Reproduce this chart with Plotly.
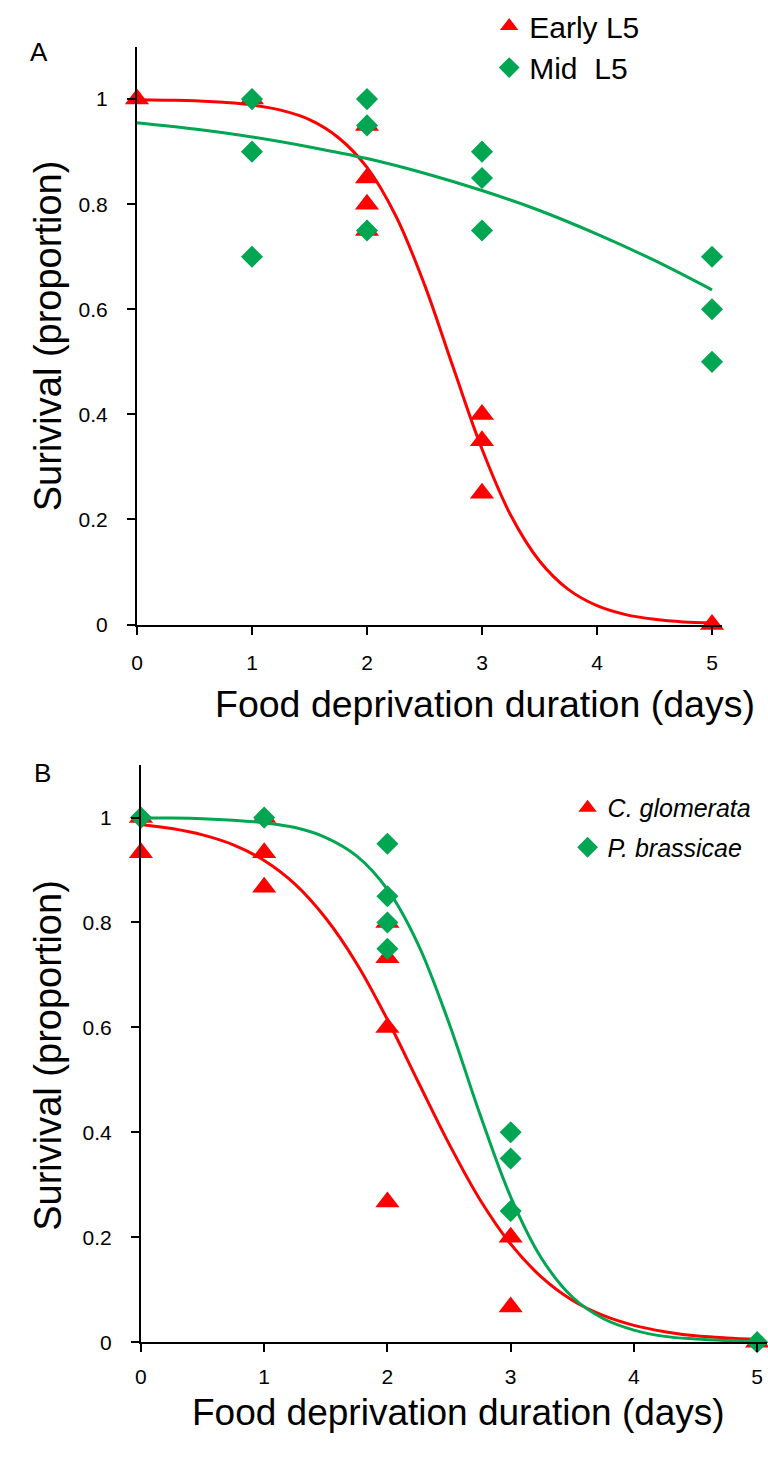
import plotly.graph_objects as go

# ---------------- Data ----------------
# Panel A
a_early_x = [0, 1, 2, 2, 2, 2, 3, 3, 3, 5]
a_early_y = [1.0, 1.0, 0.95, 0.85, 0.80, 0.75, 0.40, 0.35, 0.25, 0.0]
a_mid_x = [1, 1, 1, 2, 2, 2, 3, 3, 3, 5, 5, 5]
a_mid_y = [1.0, 0.90, 0.70, 1.0, 0.95, 0.75, 0.90, 0.85, 0.75, 0.70, 0.60, 0.50]

# fitted curves
a_early_fit_x = [0, 0.25, 0.5, 0.75, 1, 1.25, 1.5, 1.75, 2, 2.25, 2.5, 2.75, 3,
                 3.25, 3.5, 3.75, 4, 4.25, 4.5, 4.75, 5]
a_early_fit_y = [0.999, 0.998, 0.997, 0.994, 0.989, 0.979, 0.961, 0.927, 0.870,
                 0.778, 0.647, 0.489, 0.334, 0.208, 0.121, 0.067, 0.036, 0.019,
                 0.010, 0.005, 0.003]
a_mid_fit_x = [0, 0.5, 1, 1.5, 2, 2.5, 3, 3.5, 4, 4.5, 5]
a_mid_fit_y = [0.955, 0.943, 0.928, 0.909, 0.887, 0.859, 0.826, 0.788, 0.743,
               0.693, 0.637]

# Panel B
b_cg_x = [0, 0, 1, 1, 1, 2, 2, 2, 2, 3, 3, 5]
b_cg_y = [1.0, 0.933, 1.0, 0.933, 0.867, 0.80, 0.733, 0.60, 0.267, 0.20, 0.067, 0.0]
b_pb_x = [0, 1, 2, 2, 2, 2, 3, 3, 3, 5]
b_pb_y = [1.0, 1.0, 0.95, 0.85, 0.80, 0.75, 0.40, 0.35, 0.25, 0.0]

b_fit_x = [0, 0.25, 0.5, 0.75, 1, 1.25, 1.5, 1.75, 2, 2.25, 2.5, 2.75, 3,
           3.25, 3.5, 3.75, 4, 4.25, 4.5, 4.75, 5]
b_cg_fit_y = [0.987, 0.979, 0.967, 0.948, 0.918, 0.873, 0.808, 0.722, 0.615,
              0.496, 0.378, 0.272, 0.187, 0.124, 0.080, 0.051, 0.032, 0.020,
              0.012, 0.008, 0.005]
b_pb_fit_y = [0.999, 0.999, 0.998, 0.995, 0.990, 0.981, 0.962, 0.927, 0.863,
              0.758, 0.608, 0.435, 0.277, 0.160, 0.086, 0.045, 0.023, 0.011,
              0.006, 0.003, 0.001]

x_ticks = [0, 1, 2, 3, 4, 5]
y_ticks = [0, 0.2, 0.4, 0.6, 0.8, 1.0]
y_ticktext = ["0", "0.2", "0.4", "0.6", "0.8", "1"]

RED = "#FF0000"
GREEN = "#00A651"
FONT = "Liberation Sans, Arial, Helvetica, sans-serif"
W, H = 768, 1464

def px(x):
    return x / W

def py(y):
    return 1 - y / H

fig = go.Figure()

tri = dict(symbol="triangle-up", size=21, color=RED, line=dict(width=0))
dia = dict(symbol="diamond", size=17, color=GREEN, line=dict(width=0))

# Panel A
fig.add_trace(go.Scatter(x=a_early_x, y=a_early_y, mode="markers", marker=tri,
                         name="Early L5", xaxis="x", yaxis="y", cliponaxis=False,
                         legend="legend"))
fig.add_trace(go.Scatter(x=a_early_fit_x, y=a_early_fit_y, mode="lines",
                         line=dict(color=RED, width=3, shape="spline"),
                         showlegend=False, xaxis="x", yaxis="y", cliponaxis=False))
fig.add_trace(go.Scatter(x=a_mid_x, y=a_mid_y, mode="markers", marker=dia,
                         name="Mid  L5", xaxis="x", yaxis="y", cliponaxis=False,
                         legend="legend2"))
fig.add_trace(go.Scatter(x=a_mid_fit_x, y=a_mid_fit_y, mode="lines",
                         line=dict(color=GREEN, width=3, shape="spline"),
                         showlegend=False, xaxis="x", yaxis="y", cliponaxis=False))

# Panel B
fig.add_trace(go.Scatter(x=b_cg_x, y=b_cg_y, mode="markers", marker=tri,
                         name="<i>C. glomerata</i>", xaxis="x2", yaxis="y2",
                         cliponaxis=False, legend="legend3"))
fig.add_trace(go.Scatter(x=b_fit_x, y=b_cg_fit_y, mode="lines",
                         line=dict(color=RED, width=3, shape="spline"),
                         showlegend=False, xaxis="x2", yaxis="y2", cliponaxis=False))
fig.add_trace(go.Scatter(x=b_pb_x, y=b_pb_y, mode="markers", marker=dia,
                         name="<i>P. brassicae</i>", xaxis="x2", yaxis="y2",
                         cliponaxis=False, legend="legend4"))
fig.add_trace(go.Scatter(x=b_fit_x, y=b_pb_fit_y, mode="lines",
                         line=dict(color=GREEN, width=3, shape="spline"),
                         showlegend=False, xaxis="x2", yaxis="y2", cliponaxis=False))

axis_common = dict(showline=True, linecolor="black", linewidth=2, ticks="outside",
                   ticklen=8, tickwidth=2, tickcolor="black", showgrid=False,
                   zeroline=False, tickfont=dict(family=FONT, size=21, color="black"))

def leg(x, ytop, size):
    return dict(x=px(x), y=py(ytop), xanchor="left", yanchor="top",
                font=dict(family=FONT, size=size, color="black"),
                bgcolor="rgba(0,0,0,0)")

def ann(text, x, y, size, angle=0):
    return dict(text=text, x=px(x), y=py(y), xref="paper", yref="paper",
                xanchor="center", yanchor="middle", textangle=angle,
                showarrow=False, font=dict(family=FONT, size=size, color="black"))

fig.update_layout(
    width=W, height=H,
    margin=dict(l=0, r=0, t=0, b=0),
    paper_bgcolor="white", plot_bgcolor="white",
    font=dict(family=FONT, color="black"),
    xaxis=dict(domain=[px(132), px(722)], range=[0, 5.09], anchor="y",
               tickvals=x_ticks, ticklabelstandoff=10, **axis_common),
    yaxis=dict(domain=[py(627), py(43)], range=[0, 1.1], anchor="x",
               tickvals=y_ticks, ticktext=y_ticktext, ticklabelstandoff=15,
               **axis_common),
    xaxis2=dict(domain=[px(136), px(767)], range=[0, 5.08], anchor="y2",
                tickvals=x_ticks, ticklabelstandoff=7, **axis_common),
    yaxis2=dict(domain=[py(1352), py(769)], range=[0, 1.1], anchor="x2",
                tickvals=y_ticks, ticktext=y_ticktext, ticklabelstandoff=15,
                **axis_common),
    legend=leg(487, -4, 30),
    legend2=leg(487, 38, 30),
    legend3=leg(566, 789, 25),
    legend4=leg(566, 829, 25),
    annotations=[
        ann("A", 33, 48, 26),
        ann("B", 37, 777, 26),
        ann("Food deprivation duration (days)", 483, 707, 37.5),
        ann("Food deprivation duration (days)", 456, 1423, 37),
        ann("Surivival (proportion)", 42, 335, 38, -90),
        ann("Surivival (proportion)", 42, 1062, 38, -90),
    ],
)

fig.write_html("out.html")
